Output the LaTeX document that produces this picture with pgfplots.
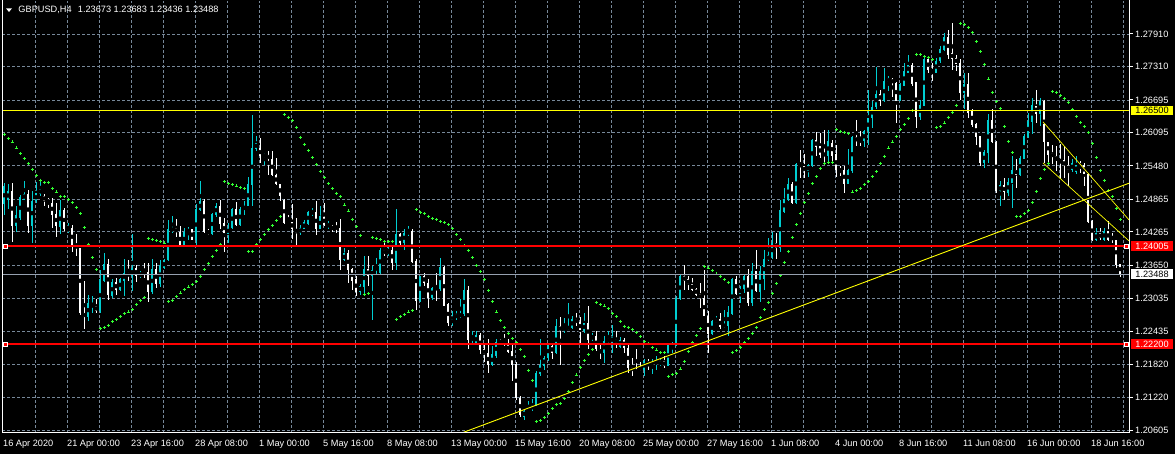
\documentclass[border=0pt]{standalone}
\usepackage{pgfplots}
\pgfplotsset{compat=1.18}
\usepackage{pgfplotstable}
\usepackage{fontspec}
\setmainfont{Liberation Sans}
\definecolor{bull}{RGB}{0,206,209}
\definecolor{sar}{RGB}{50,255,50}
\definecolor{gridc}{RGB}{119,136,153}
\definecolor{pricec}{RGB}{150,160,175}
\definecolor{yel}{RGB}{255,255,0}
\definecolor{redl}{RGB}{255,0,0}

\pgfplotstableread{
o h l c s
1.2477 1.2517 1.2458 1.2511 1.2606
1.2486 1.2514 1.2468 1.2501 1.2599
1.2501 1.2517 1.2408 1.2438 1.2592
1.2438 1.2474 1.2426 1.2457 1.2581
1.2452 1.2495 1.2449 1.2490 1.2570
1.2486 1.2521 1.2486 1.2497 1.2561
1.2497 1.2504 1.2425 1.2438 1.2552
1.2438 1.2501 1.2406 1.2484 1.2542
1.2483 1.2518 1.2479 1.2498 1.2531
1.2496 1.2523 1.2492 1.2506 1.2522
1.2492 1.2497 1.2475 1.2484 1.2517
1.2486 1.2489 1.2471 1.2480 1.2517
1.2480 1.2489 1.2434 1.2458 1.2507
1.2460 1.2480 1.2417 1.2437 1.2500
1.2436 1.2486 1.2422 1.2466 1.2492
1.2466 1.2471 1.2428 1.2431 1.2491
1.2428 1.2443 1.2425 1.2434 1.2487
1.2434 1.2440 1.2389 1.2401 1.2480
1.2403 1.2422 1.2382 1.2396 1.2471
1.2396 1.2397 1.2274 1.2277 1.2460
1.2277 1.2336 1.2247 1.2270 1.2434
1.2270 1.2311 1.2262 1.2295 1.2404
1.2289 1.2308 1.2277 1.2292 1.2379
1.2290 1.2303 1.2277 1.2281 1.2358
1.2281 1.2356 1.2277 1.2339 1.2248
1.2337 1.2387 1.2334 1.2368 1.2250
1.2368 1.2376 1.2302 1.2310 1.2255
1.2308 1.2339 1.2305 1.2334 1.2261
1.2334 1.2342 1.2311 1.2319 1.2265
1.2319 1.2342 1.2317 1.2339 1.2270
1.2337 1.2376 1.2308 1.2351 1.2276
1.2351 1.2374 1.2336 1.2345 1.2279
1.2345 1.2422 1.2317 1.2360 1.2283
1.2360 1.2365 1.2335 1.2345 1.2292
1.2345 1.2354 1.2342 1.2351 1.2300
1.2352 1.2369 1.2342 1.2350 1.2305
1.2352 1.2369 1.2297 1.2315 1.2415
1.2315 1.2377 1.2313 1.2358 1.2412
1.2358 1.2369 1.2323 1.2330 1.2410
1.2330 1.2374 1.2325 1.2366 1.2408
1.2360 1.2377 1.2358 1.2374 1.2406
1.2374 1.2448 1.2373 1.2431 1.2298
1.2429 1.2455 1.2425 1.2433 1.2301
1.2433 1.2451 1.2417 1.2426 1.2307
1.2426 1.2438 1.2399 1.2401 1.2314
1.2401 1.2434 1.2400 1.2426 1.2320
1.2426 1.2436 1.2412 1.2431 1.2325
1.2431 1.2432 1.2411 1.2412 1.2329
1.2412 1.2478 1.2403 1.2468 1.2335
1.2466 1.2520 1.2465 1.2483 1.2344
1.2483 1.2488 1.2425 1.2427 1.2357
1.2429 1.2432 1.2420 1.2422 1.2369
1.2422 1.2461 1.2420 1.2460 1.2382
1.2458 1.2479 1.2454 1.2475 1.2393
1.2475 1.2486 1.2431 1.2441 1.2403
1.2442 1.2452 1.2389 1.2425 1.2519
1.2423 1.2443 1.2406 1.2434 1.2515
1.2434 1.2471 1.2431 1.2468 1.2513
1.2468 1.2481 1.2438 1.2440 1.2511
1.2440 1.2473 1.2437 1.2469 1.2508
1.2468 1.2483 1.2458 1.2474 1.2506
1.2474 1.2528 1.2474 1.2514 1.2390
1.2512 1.2642 1.2475 1.2581 1.2391
1.2580 1.2604 1.2575 1.2590 1.2403
1.2581 1.2599 1.2553 1.2566 1.2412
1.2566 1.2571 1.2550 1.2569 1.2421
1.2569 1.2575 1.2532 1.2560 1.2431
1.2561 1.2575 1.2530 1.2532 1.2438
1.2532 1.2563 1.2512 1.2514 1.2447
1.2514 1.2515 1.2483 1.2492 1.2454
1.2486 1.2487 1.2442 1.2443 1.2642
1.2446 1.2458 1.2442 1.2443 1.2638
1.2445 1.2477 1.2414 1.2432 1.2631
1.2432 1.2452 1.2403 1.2425 1.2618
1.2425 1.2440 1.2420 1.2433 1.2601
1.2432 1.2449 1.2431 1.2444 1.2588
1.2442 1.2465 1.2440 1.2463 1.2576
1.2461 1.2471 1.2455 1.2463 1.2563
1.2463 1.2483 1.2420 1.2431 1.2550
1.2431 1.2474 1.2431 1.2455 1.2538
1.2454 1.2480 1.2437 1.2440 1.2526
1.2436 1.2446 1.2431 1.2442 1.2515
1.2437 1.2440 1.2427 1.2431 1.2506
1.2437 1.2444 1.2425 1.2432 1.2498
1.2434 1.2450 1.2357 1.2374 1.2491
1.2374 1.2397 1.2372 1.2387 1.2476
1.2387 1.2394 1.2333 1.2356 1.2465
1.2358 1.2360 1.2320 1.2337 1.2450
1.2339 1.2345 1.2308 1.2316 1.2436
1.2316 1.2330 1.2311 1.2327 1.2419
1.2325 1.2383 1.2309 1.2358 1.2311
1.2358 1.2383 1.2327 1.2345 1.2313
1.2345 1.2363 1.2265 1.2357 1.2417
1.2356 1.2379 1.2348 1.2362 1.2415
1.2350 1.2397 1.2348 1.2394 1.2412
1.2394 1.2407 1.2383 1.2385 1.2409
1.2385 1.2400 1.2383 1.2394 1.2409
1.2394 1.2401 1.2357 1.2369 1.2409
1.2369 1.2468 1.2357 1.2422 1.2266
1.2422 1.2425 1.2403 1.2406 1.2270
1.2406 1.2431 1.2394 1.2425 1.2275
1.2422 1.2438 1.2419 1.2428 1.2279
1.2428 1.2431 1.2370 1.2371 1.2282
1.2373 1.2376 1.2282 1.2299 1.2468
1.2299 1.2346 1.2297 1.2345 1.2463
1.2345 1.2351 1.2327 1.2333 1.2460
1.2333 1.2340 1.2287 1.2305 1.2455
1.2305 1.2325 1.2302 1.2324 1.2451
1.2324 1.2351 1.2299 1.2321 1.2449
1.2321 1.2379 1.2317 1.2362 1.2445
1.2362 1.2363 1.2290 1.2291 1.2443
1.2293 1.2296 1.2253 1.2258 1.2440
1.2258 1.2280 1.2254 1.2266 1.2432
1.2268 1.2280 1.2265 1.2275 1.2421
1.2270 1.2302 1.2268 1.2276 1.2412
1.2276 1.2340 1.2271 1.2319 1.2401
1.2319 1.2327 1.2210 1.2227 1.2392
1.2227 1.2244 1.2222 1.2232 1.2379
1.2222 1.2244 1.2220 1.2236 1.2364
1.2236 1.2241 1.2201 1.2209 1.2353
1.2210 1.2222 1.2186 1.2201 1.2339
1.2204 1.2230 1.2167 1.2181 1.2319
1.2181 1.2216 1.2179 1.2201 1.2298
1.2198 1.2230 1.2195 1.2224 1.2279
1.2225 1.2230 1.2219 1.2221 1.2263
1.2225 1.2239 1.2216 1.2219 1.2250
1.2221 1.2230 1.2204 1.2205 1.2239
1.2207 1.2222 1.2152 1.2181 1.2230
1.2184 1.2186 1.2117 1.2121 1.2222
1.2121 1.2125 1.2086 1.2090 1.2210
1.2086 1.2100 1.2080 1.2097 1.2197
1.2095 1.2115 1.2094 1.2101 1.2172
1.2100 1.2118 1.2097 1.2107 1.2152
1.2106 1.2170 1.2105 1.2166 1.2077
1.2164 1.2229 1.2161 1.2181 1.2079
1.2180 1.2198 1.2173 1.2195 1.2084
1.2195 1.2222 1.2189 1.2219 1.2092
1.2217 1.2222 1.2192 1.2203 1.2101
1.2203 1.2267 1.2201 1.2253 1.2108
1.2253 1.2270 1.2182 1.2244 1.2110
1.2244 1.2268 1.2241 1.2252 1.2119
1.2247 1.2296 1.2246 1.2253 1.2132
1.2250 1.2271 1.2247 1.2266 1.2149
1.2266 1.2277 1.2253 1.2259 1.2163
1.2260 1.2270 1.2222 1.2246 1.2176
1.2244 1.2277 1.2241 1.2259 1.2189
1.2259 1.2290 1.2210 1.2227 1.2201
1.2229 1.2241 1.2225 1.2235 1.2210
1.2235 1.2244 1.2207 1.2210 1.2296
1.2211 1.2221 1.2192 1.2203 1.2293
1.2203 1.2235 1.2186 1.2225 1.2290
1.2223 1.2244 1.2222 1.2230 1.2285
1.2224 1.2256 1.2204 1.2232 1.2276
1.2230 1.2244 1.2213 1.2221 1.2271
1.2215 1.2233 1.2213 1.2228 1.2262
1.2228 1.2231 1.2204 1.2213 1.2253
1.2213 1.2222 1.2167 1.2176 1.2250
1.2178 1.2195 1.2161 1.2170 1.2246
1.2172 1.2210 1.2167 1.2168 1.2242
1.2170 1.2187 1.2164 1.2166 1.2233
1.2173 1.2192 1.2162 1.2188 1.2225
1.2188 1.2192 1.2173 1.2182 1.2221
1.2182 1.2192 1.2164 1.2188 1.2214
1.2185 1.2198 1.2173 1.2189 1.2209
1.2182 1.2194 1.2180 1.2188 1.2204
1.2188 1.2198 1.2176 1.2180 1.2204
1.2180 1.2222 1.2179 1.2218 1.2161
1.2216 1.2223 1.2204 1.2220 1.2164
1.2217 1.2308 1.2216 1.2305 1.2166
1.2303 1.2349 1.2302 1.2345 1.2174
1.2345 1.2365 1.2320 1.2336 1.2188
1.2339 1.2345 1.2320 1.2330 1.2206
1.2331 1.2342 1.2317 1.2320 1.2222
1.2322 1.2323 1.2308 1.2311 1.2235
1.2313 1.2333 1.2287 1.2303 1.2248
1.2305 1.2356 1.2271 1.2271 1.2363
1.2272 1.2280 1.2204 1.2238 1.2360
1.2238 1.2265 1.2236 1.2262 1.2355
1.2259 1.2271 1.2259 1.2266 1.2349
1.2266 1.2277 1.2248 1.2252 1.2344
1.2252 1.2282 1.2250 1.2256 1.2339
1.2253 1.2290 1.2235 1.2279 1.2333
1.2276 1.2342 1.2274 1.2339 1.2205
1.2340 1.2345 1.2311 1.2313 1.2208
1.2313 1.2327 1.2296 1.2322 1.2213
1.2322 1.2348 1.2314 1.2345 1.2222
1.2345 1.2358 1.2291 1.2295 1.2230
1.2295 1.2369 1.2291 1.2354 1.2240
1.2354 1.2394 1.2315 1.2317 1.2250
1.2315 1.2363 1.2297 1.2354 1.2268
1.2340 1.2394 1.2320 1.2376 1.2284
1.2375 1.2415 1.2373 1.2383 1.2297
1.2380 1.2426 1.2376 1.2406 1.2313
1.2406 1.2425 1.2376 1.2397 1.2331
1.2397 1.2486 1.2389 1.2466 1.2346
1.2464 1.2507 1.2461 1.2487 1.2371
1.2486 1.2526 1.2483 1.2515 1.2390
1.2515 1.2518 1.2477 1.2479 1.2417
1.2479 1.2553 1.2477 1.2552 1.2440
1.2552 1.2577 1.2526 1.2546 1.2461
1.2547 1.2569 1.2526 1.2538 1.2480
1.2538 1.2552 1.2528 1.2549 1.2498
1.2547 1.2598 1.2546 1.2595 1.2515
1.2595 1.2610 1.2566 1.2583 1.2528
1.2584 1.2609 1.2563 1.2569 1.2544
1.2571 1.2614 1.2554 1.2567 1.2553
1.2567 1.2615 1.2554 1.2593 1.2555
1.2591 1.2596 1.2552 1.2567 1.2555
1.2569 1.2587 1.2528 1.2540 1.2615
1.2541 1.2547 1.2530 1.2540 1.2612
1.2541 1.2547 1.2499 1.2515 1.2610
1.2515 1.2579 1.2514 1.2540 1.2607
1.2538 1.2604 1.2535 1.2601 1.2500
1.2601 1.2633 1.2584 1.2593 1.2503
1.2595 1.2612 1.2585 1.2593 1.2507
1.2593 1.2615 1.2583 1.2612 1.2514
1.2612 1.2688 1.2587 1.2636 1.2519
1.2636 1.2667 1.2618 1.2657 1.2528
1.2657 1.2730 1.2652 1.2681 1.2537
1.2681 1.2688 1.2658 1.2667 1.2553
1.2667 1.2728 1.2665 1.2704 1.2566
1.2702 1.2713 1.2685 1.2710 1.2581
1.2708 1.2710 1.2675 1.2700 1.2592
1.2701 1.2702 1.2627 1.2667 1.2603
1.2667 1.2700 1.2667 1.2698 1.2615
1.2696 1.2737 1.2696 1.2722 1.2624
1.2720 1.2753 1.2719 1.2734 1.2635
1.2734 1.2737 1.2695 1.2698 1.2650
1.2702 1.2702 1.2618 1.2638 1.2754
1.2638 1.2669 1.2633 1.2661 1.2753
1.2659 1.2747 1.2658 1.2744 1.2749
1.2744 1.2750 1.2719 1.2725 1.2747
1.2726 1.2737 1.2704 1.2720 1.2744
1.2720 1.2747 1.2719 1.2742 1.2618
1.2741 1.2768 1.2737 1.2763 1.2620
1.2762 1.2793 1.2759 1.2785 1.2627
1.2785 1.2799 1.2744 1.2753 1.2638
1.2756 1.2811 1.2725 1.2745 1.2647
1.2747 1.2753 1.2722 1.2736 1.2660
1.2737 1.2744 1.2669 1.2682 1.2811
1.2682 1.2719 1.2652 1.2698 1.2808
1.2698 1.2719 1.2636 1.2645 1.2802
1.2649 1.2652 1.2620 1.2624 1.2793
1.2626 1.2627 1.2587 1.2601 1.2777
1.2603 1.2604 1.2547 1.2553 1.2759
1.2553 1.2578 1.2544 1.2573 1.2734
1.2571 1.2644 1.2553 1.2633 1.2708
1.2633 1.2653 1.2590 1.2592 1.2684
1.2592 1.2593 1.2498 1.2501 1.2666
1.2501 1.2520 1.2474 1.2512 1.2653
1.2512 1.2526 1.2486 1.2499 1.2620
1.2499 1.2526 1.2492 1.2518 1.2593
1.2517 1.2566 1.2471 1.2541 1.2572
1.2541 1.2561 1.2507 1.2532 1.2454
1.2532 1.2566 1.2529 1.2563 1.2454
1.2561 1.2606 1.2560 1.2604 1.2460
1.2602 1.2645 1.2599 1.2630 1.2466
1.2628 1.2673 1.2607 1.2661 1.2481
1.2659 1.2688 1.2627 1.2644 1.2501
1.2644 1.2673 1.2621 1.2667 1.2524
1.2667 1.2670 1.2553 1.2592 1.2542
1.2592 1.2593 1.2555 1.2569 1.2553
1.2571 1.2587 1.2552 1.2565 1.2685
1.2566 1.2584 1.2538 1.2558 1.2684
1.2560 1.2589 1.2523 1.2555 1.2678
1.2558 1.2584 1.2526 1.2547 1.2673
1.2549 1.2566 1.2511 1.2540 1.2664
1.2540 1.2560 1.2536 1.2553 1.2652
1.2536 1.2566 1.2534 1.2550 1.2639
1.2552 1.2557 1.2535 1.2547 1.2628
1.2550 1.2553 1.2511 1.2533 1.2620
1.2533 1.2535 1.2443 1.2445 1.2609
1.2446 1.2449 1.2409 1.2412 1.2589
1.2412 1.2434 1.2409 1.2424 1.2563
1.2424 1.2434 1.2412 1.2415 1.2540
1.2412 1.2434 1.2409 1.2428 1.2522
1.2428 1.2446 1.2409 1.2412 1.2503
1.2418 1.2425 1.2406 1.2412 1.2491
1.2412 1.2412 1.2360 1.2366 1.2469
1.23673 1.23683 1.23436 1.23488 1.2449
}\candles

\begin{document}
\begin{tikzpicture}[x=1bp, y=1bp, font=\fontsize{9.2bp}{11bp}\selectfont]
\fill[black] (0,0) rectangle (1175,454);
\begin{axis}[
  at={(2bp,21bp)}, anchor=south west, scale only axis,
  width=1127bp, height=432bp,
  xmin=-0.5, xmax=281.25, ymin=1.20563, ymax=1.28518,
  axis line style={draw=none},
  xtick={7.75,15.75,...,279.75},
  ytick={1.20605,1.21220,1.21820,1.22435,1.23035,1.23650,1.24265,1.24865,1.25480,1.26095,1.26695,1.27310,1.27910},
  xticklabels={}, yticklabels={},
  major tick length=0pt,
  grid=major,
  major grid style={gridc, line width=0.8bp, dash pattern=on 3bp off 2bp},
  clip mode=individual,
]
% wicks
\addplot[only marks, mark=none, error bars/.cd, y dir=both, y explicit, error mark=none,
  error bar style={white, line width=1bp}]
  table[x expr=\coordindex, y expr={\thisrow{c}<\thisrow{o} ? (\thisrow{h}+\thisrow{l})/2 : 0},
        y error expr={(\thisrow{h}-\thisrow{l})/2}] {\candles};
\addplot[only marks, mark=none, error bars/.cd, y dir=both, y explicit, error mark=none,
  error bar style={bull, line width=1bp}]
  table[x expr=\coordindex, y expr={\thisrow{c}<\thisrow{o} ? 0 : (\thisrow{h}+\thisrow{l})/2},
        y error expr={(\thisrow{h}-\thisrow{l})/2}] {\candles};
% bodies
\addplot[only marks, mark=none, error bars/.cd, y dir=both, y explicit, error mark=none,
  error bar style={white, line width=2.8bp}]
  table[x expr=\coordindex, y expr={\thisrow{c}<\thisrow{o} ? (\thisrow{o}+\thisrow{c})/2 : 0},
        y error expr={max(abs(\thisrow{c}-\thisrow{o})/2,0.00009)}] {\candles};
\addplot[only marks, mark=none, error bars/.cd, y dir=both, y explicit, error mark=none,
  error bar style={bull, line width=2.8bp}]
  table[x expr=\coordindex, y expr={\thisrow{c}<\thisrow{o} ? 0 : (\thisrow{o}+\thisrow{c})/2},
        y error expr={max(abs(\thisrow{c}-\thisrow{o})/2,0.00009)}] {\candles};
% parabolic SAR
\addplot[only marks, mark=+, mark size=1.5bp, color=sar, mark options={line width=0.9bp}]
  table[x expr=\coordindex, y=s] {\candles};
% horizontal lines
\addplot[yel, line width=1bp] coordinates {(-0.5,1.26500) (281.25,1.26500)};
\addplot[pricec, line width=1bp] coordinates {(-0.5,1.23488) (281.25,1.23488)};
\addplot[redl, line width=1.4bp] coordinates {(-0.5,1.24005) (281.25,1.24005)};
\addplot[redl, line width=1.4bp] coordinates {(-0.5,1.22200) (281.25,1.22200)};
% trend lines
\addplot[yel, line width=0.9bp] coordinates {(114.5,1.20563) (281.25,1.25161)};
\addplot[yel, line width=0.7bp] coordinates {(259.75,1.26290) (281.25,1.24485)};
\addplot[yel, line width=0.7bp] coordinates {(259.75,1.25535) (281.25,1.24098)};
\addplot[only marks, mark=square*, mark size=2bp, mark options={draw=white, fill=redl, line width=0.8bp}]
  coordinates {(0.25,1.24005) (280.5,1.24005) (0.25,1.22200) (280.5,1.22200)};
\end{axis}
% frame (absolute: axis box from x=2 to 1129, y=21 to 453)
\draw[white, line width=1bp] (2,454) -- (2,21) -- (1129,21) -- (1129,454);
% right price labels (y = 21 + (p-1.20563)*5430.6)
\foreach \yy/\t in {23.3/1.20605,56.7/1.21220,89.3/1.21820,122.7/1.22435,155.2/1.23035,188.6/1.23650,222.0/1.24265,254.6/1.24865,288.0/1.25480,321.4/1.26095,354.0/1.26695,387.4/1.27310,420.0/1.27910}{
  \draw[white, line width=1bp] (1129,\yy) -- (1133,\yy);
  \node[anchor=west, text=white, inner sep=0pt] at (1135,\yy) {\t};
}
\node[anchor=west, fill=yel, text=black, inner sep=0pt, minimum height=9.5bp, minimum width=41.7bp] at (1131,343.4) {1.26500};
\node[anchor=west, fill=redl, text=white, inner sep=0pt, minimum height=9.5bp, minimum width=41.7bp] at (1131,207.9) {1.24005};
\node[anchor=west, fill=white, text=black, inner sep=0pt, minimum height=9.5bp, minimum width=41.7bp] at (1131,179.8) {1.23488};
\node[anchor=west, fill=redl, text=white, inner sep=0pt, minimum height=9.5bp, minimum width=41.7bp] at (1131,109.9) {1.22200};
% time axis labels
\foreach \k/\t in {0/16 Apr 2020,1/21 Apr 00:00,2/23 Apr 16:00,3/28 Apr 08:00,4/1 May 00:00,5/5 May 16:00,6/8 May 08:00,7/13 May 00:00,8/15 May 16:00,9/20 May 08:00,10/25 May 00:00,11/27 May 16:00,12/1 Jun 08:00,13/4 Jun 00:00,14/8 Jun 16:00,15/11 Jun 08:00,16/16 Jun 00:00,17/18 Jun 16:00}{
  \node[anchor=base west, text=white, inner sep=0pt] at ({3+64*\k},7.5) {\t};
}
% header
\fill[white] (6,445.7) -- (12,445.7) -- (9,442) -- cycle;
\node[anchor=base west, text=white, inner sep=0pt] at (18.3,441.3) {GBPUSD,H4\hspace{3.7bp} 1.23673 1.23683 1.23436 1.23488};
\pgfresetboundingbox
\path[use as bounding box] (0,0) rectangle (1175,454);
\end{tikzpicture}
\end{document}
